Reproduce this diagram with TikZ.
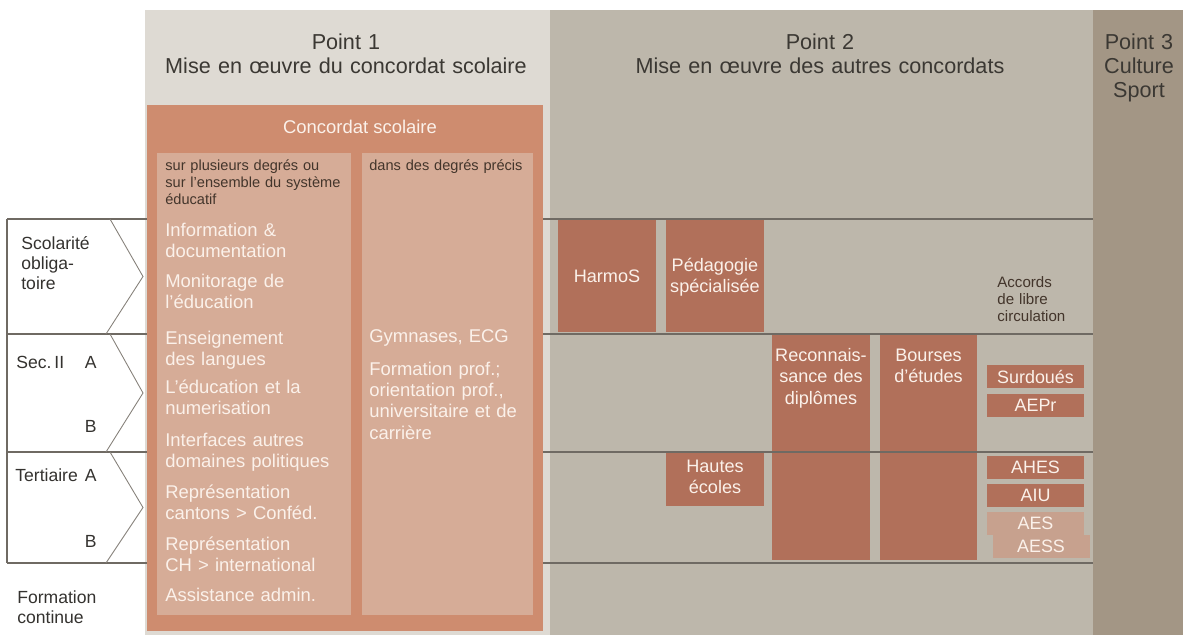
\documentclass[tikz,border=0pt]{standalone}
\usepackage{fontspec}
\setmainfont{Liberation Sans}
\usepackage{tikz}
\usepackage{xcolor}
\usetikzlibrary{positioning}

\definecolor{pointone}{HTML}{DEDAD3}
\definecolor{pointtwo}{HTML}{BDB7AB}
\definecolor{pointthree}{HTML}{A39685}
\definecolor{concclr}{HTML}{CE8C6F}
\definecolor{subclr}{HTML}{D6AC97}
\definecolor{boxclr}{HTML}{B1705A}
\definecolor{paleboxclr}{HTML}{C7A18E}
\definecolor{lineclr}{HTML}{6F6A63}
\definecolor{chevclr}{HTML}{858079}
\definecolor{headclr}{HTML}{3B3833}
\definecolor{labelclr}{HTML}{34322F}
\definecolor{darkclr}{HTML}{43352B}
\definecolor{creamclr}{HTML}{FBF1EA}

\begin{document}
\begin{tikzpicture}[x=0.02cm,y=-0.02cm,
  bandline/.style={draw=lineclr,line width=1pt},
  chevron/.style={draw=chevclr,line width=0.5pt},
  headtext/.style={text=headclr,font=\fontsize{12.3}{13.3}\selectfont,align=center,anchor=base,inner sep=0pt},
  lefttext/.style={text=labelclr,font=\fontsize{10}{11.4}\selectfont,align=left,anchor=base west,inner sep=0pt,text width=2cm},
  itemtext/.style={text=creamclr,font=\fontsize{10.5}{12.2}\selectfont,align=left,anchor=base west,inner sep=0pt,text width=3.7cm},
  smalltext/.style={text=darkclr,font=\fontsize{8.3}{9.4}\selectfont,align=left,anchor=base west,inner sep=0pt,text width=3.7cm},
  boxtext/.style={text=creamclr,font=\fontsize{10.3}{12.5}\selectfont,align=center,anchor=base,inner sep=0pt,text width=1.9cm},
  accbox/.style={fill=boxclr,text=creamclr,font=\fontsize{10.2}{12}\selectfont,minimum width=1.94cm,minimum height=0.46cm,inner sep=0pt}]
  \useasboundingbox (0,0) rectangle (1183,635);

  % the three points
  \fill[pointone] (145,10) rectangle (550,635);
  \fill[pointtwo] (550,10) rectangle (1093,635);
  \fill[pointthree] (1093,10) rectangle (1183,635);

  % other concordats
  \fill[boxclr] (558,220) rectangle (656,332);
  \fill[boxclr] (666,220) rectangle (764,332);
  \fill[boxclr] (772,334) rectangle (870,560);
  \fill[boxclr] (880,334) rectangle (977,560);
  \fill[boxclr] (666,452) rectangle (764,506);

  % levels
  \foreach \y in {219,334,452,563}
    \draw[bandline] (7,\y) -- (1093,\y);

  % concordat scolaire
  \fill[concclr] (147,105) rectangle (543,631);
  \fill[subclr] (157,153) rectangle (351,615);
  \fill[subclr] (362,153) rectangle (533,615);

  \draw[bandline] (7,219) -- (7,563);
  \foreach \ya/\yb in {219/334,334/452,452/563}
    \draw[chevron] (110,\ya) -- (143,{(\ya+\yb)/2}) -- (106,\yb);

  \node[headtext,text width=7.5cm] (pone) at (346,50) {Point 1\\Mise en œuvre du concordat scolaire};
  \node[headtext,text width=7.5cm] (ptwo) at (820,50) {Point 2\\Mise en œuvre des autres concordats};
  \node[headtext,text width=1.8cm,font=\fontsize{12.3}{13.6}\selectfont] (pthree) at (1139,50) {Point 3\\Culture\\Sport};

  \node[lefttext] (scol) at (21,249) {Scolarité\\obliga-\\toire};
  \node[lefttext] (secii) at (16,368) {Sec.\,II};
  \node[lefttext] (tert) at (15,481) {Tertiaire};
  \node[lefttext] (formc) at (17,603) {Formation\\continue};
  \foreach \nm/\lt/\y in {seca/A/368,secb/B/432,terta/A/481,tertb/B/547}
    \node[text=labelclr,font=\fontsize{10}{11.4}\selectfont,anchor=base east,inner sep=0pt] (\nm) at (97,\y) {\lt};

  \node[text=creamclr,font=\fontsize{10.5}{12}\selectfont] (conc) at (360,127) {Concordat scolaire};
  \node[smalltext] (plusieurs) at (165,171) {sur plusieurs degrés ou\\sur l’ensemble du système\\éducatif};
  \node[smalltext,text width=3.3cm] (precis) at (369,171) {dans des degrés précis};

  \foreach \txt/\y [count=\i] in {{Information \&\\documentation}/236,
      {Monitorage de\\l’éducation}/287,
      {Enseignement\\des langues}/344,
      {L’éducation et la\\numerisation}/393,
      {Interfaces autres\\domaines politiques}/446,
      {Représentation\\cantons > Conféd.}/498,
      {Représentation\\CH > international}/550,
      {Assistance admin.}/601}
    \node[itemtext] (item\i) at (165,\y) {\txt};
  \node[itemtext,text width=3.3cm] (gymn) at (369,342) {Gymnases, ECG};
  \node[itemtext,text width=3.3cm] (fprof) at (369,375) {Formation prof.;\\orientation prof.,\\universitaire et de\\carrière};

  \node[boxtext] (harmos) at (607,282) {HarmoS};
  \node[boxtext] (pedago) at (715,271) {Pédagogie\\spécialisée};
  \node[boxtext] (reco) at (821,361) {Reconnais-\\sance des\\diplômes};
  \node[boxtext] (bourses) at (928.5,361) {Bourses\\d’études};
  \node[boxtext] (hautes) at (715,472) {Hautes\\écoles};

  \node[smalltext,font=\fontsize{8.6}{9.7}\selectfont,text width=2cm] (accords) at (997,287) {Accords\\de libre\\circulation};
  \node[accbox] (surdoues) at (1035.5,376.5) {Surdoués};
  \node[accbox] (aepr) at (1035.5,405.5) {AEPr};
  \node[accbox] (ahes) at (1035.5,467) {AHES};
  \node[accbox] (aiu) at (1035.5,495) {AIU};
  \node[accbox,fill=paleboxclr] (aess) at (1041,546) {AESS};
  \node[accbox,fill=paleboxclr] (aes) at (1035.5,523.5) {AES};
\end{tikzpicture}
\end{document}
